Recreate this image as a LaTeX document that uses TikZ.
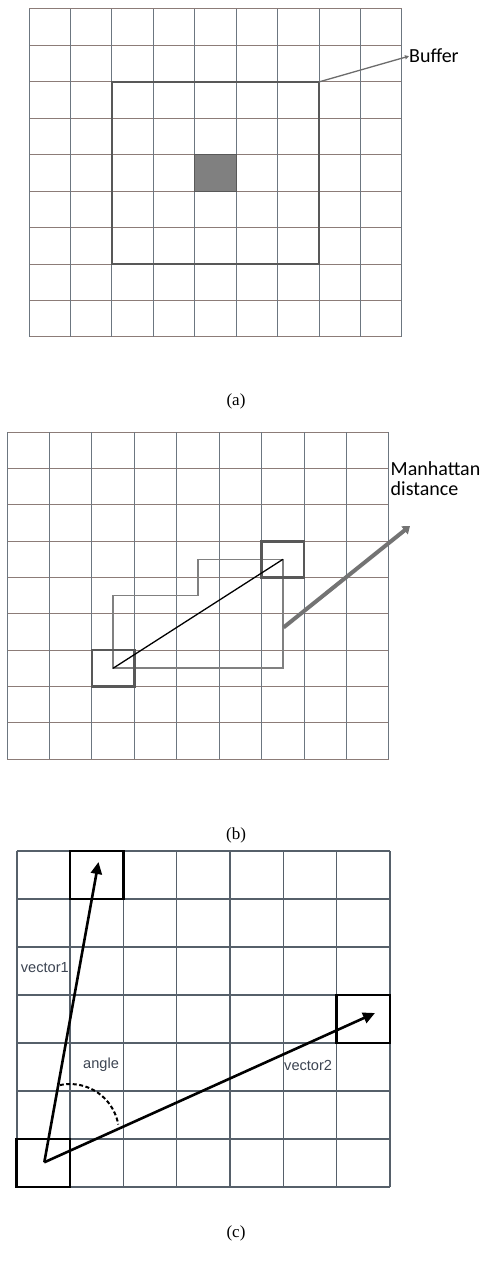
\documentclass[tikz,border=0pt]{standalone}
\usepackage{fontspec}
\setmainfont{Liberation Serif}
\newfontfamily\calib{Carlito}
\newfontfamily\arialf{Liberation Sans}
\usetikzlibrary{arrows.meta}
\definecolor{gridh}{RGB}{140,124,120}
\definecolor{gridv}{RGB}{108,118,128}
\definecolor{gridc}{RGB}{86,96,106}
\definecolor{boxgray}{RGB}{88,88,88}
\definecolor{pathgray}{RGB}{128,128,128}
\definecolor{cellgray}{RGB}{128,128,128}
\definecolor{lblc}{RGB}{60,68,82}
\begin{document}
\begin{tikzpicture}[x=1pt,y=-1pt,
  ghor/.style={draw=gridh, line width=1pt},
  gver/.style={draw=gridv, line width=1pt},
  gc/.style={draw=gridc, line width=1.6pt},
  bufbox/.style={draw=boxgray, line width=2.6pt},
  cellbox/.style={draw=boxgray, line width=2.6pt},
  manpath/.style={draw=pathgray, line width=1.6pt, line join=miter},
  bigarrow/.style={draw=pathgray!90!black, line width=4pt, -{Triangle[length=7pt,width=10pt]}},
  thinarrow/.style={draw=gray!85!black, line width=1.3pt, -{Triangle[length=4pt,width=4pt]}},
  vecbox/.style={draw=black, line width=2.6pt},
  vecarrow/.style={draw=black, line width=2.6pt, -{Triangle[length=12pt,width=11pt]}},
  callabel/.style={font=\calib\fontsize{20}{20.5}\selectfont, inner sep=0pt, align=left},
  veclabel/.style={font=\arialf\fontsize{14.6}{16}\selectfont, text=lblc, inner sep=0pt},
  caption/.style={font=\fontsize{17}{20}\selectfont, inner sep=0pt}
]
\useasboundingbox[fill=white] (0,0) rectangle (488,1263);

% ---------------- panel (a)
\begin{scope}[shift={(29pt,-9pt)}, x=41.44pt, y=-36.44pt]
  \foreach \j in {0,...,9} \draw[ghor] (0,\j) -- (9,\j);
  \foreach \i in {0,...,9} \draw[gver] (\i,0) -- (\i,9);
  \fill[cellgray, draw=boxgray, line width=1pt] (4,4) rectangle (5,5);
  \draw[bufbox] (2,2) rectangle (7,7);
  \coordinate (bcorner) at (7,2);
\end{scope}
\node[callabel, anchor=base west] (buf) at (409,63) {Buffer};
\draw[thinarrow] (bcorner) -- (buf.west);
\node[caption, anchor=base] (capa) at (236,405) {(a)};

% ---------------- panel (b)
\begin{scope}[shift={(7pt,-432.3pt)}, x=42.44pt, y=-36.3pt]
  \foreach \j in {0,...,9} \draw[ghor] (0,\j) -- (9,\j);
  \foreach \i in {0,...,9} \draw[gver] (\i,0) -- (\i,9);
  \draw[manpath] (2.5,6.5) -- (2.5,4.5) -- (4.5,4.5) -- (4.5,3.5) -- (6.5,3.5) -- (6.5,6.5) -- cycle;
  \draw[cellbox] (2,6) rectangle (3,7);
  \draw[cellbox] (6,3) rectangle (7,4);
  \coordinate (pA) at (2.5,6.5);
  \coordinate (pB) at (6.5,3.5);
\end{scope}
\draw[black, line width=1.3pt] (pA) -- (pB);
\node[callabel, anchor=base west] (man) at (390.5,495.7) {Manhattan\\distance};
\coordinate (mstart) at (283.5,627.5);
\coordinate (mtip) at (410,526);
\draw[bigarrow] (mstart) -- (mtip);
\node[caption, anchor=base] (capb) at (236,839) {(b)};

% ---------------- panel (c)
\begin{scope}[shift={(16.7pt,-851pt)}, x=53.33pt, y=-48pt]
  \foreach \j in {0,...,7} \draw[gc] (0,\j) -- (7,\j);
  \foreach \i in {0,...,7} \draw[gc] (\i,0) -- (\i,7);
  \draw[vecbox] (1,0) rectangle (2,1);
  \draw[vecbox] (6,3) rectangle (7,4);
  \draw[vecbox] (0,6) rectangle (1,7);
\end{scope}
\coordinate (orig) at (44.3,1162.3);
\coordinate (tip1) at (98.5,862);
\coordinate (tip2) at (375,1013);
\draw[vecarrow] (orig) -- (tip1);
\draw[vecarrow] (orig) -- (tip2);
\draw[black, line width=2pt, dash pattern=on 4pt off 2.5pt] (59.8,1085.1) arc[start angle=-102, end angle=-10, radius=49];
\node[veclabel, anchor=base west] (v1) at (20.7,972) {vector1};
\node[veclabel, anchor=base west] (ang) at (83,1068) {angle};
\node[veclabel, anchor=base west] (v2) at (284,1070.7) {vector2};
\node[caption, anchor=base] (capc) at (236,1237) {(c)};
\end{tikzpicture}
\end{document}
